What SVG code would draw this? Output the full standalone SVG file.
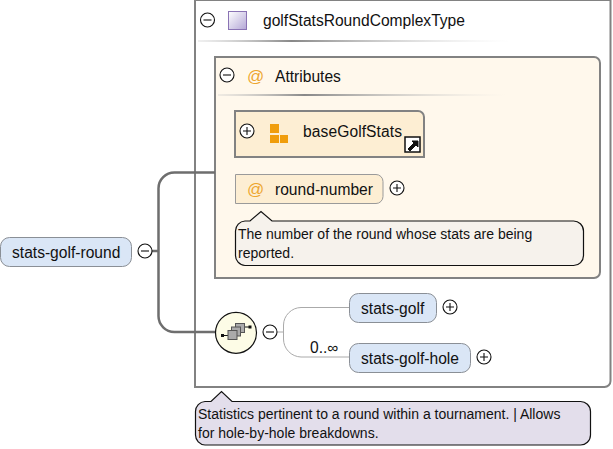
<svg xmlns="http://www.w3.org/2000/svg" width="613" height="449" viewBox="0 0 613 449">
<style>
text{font-family:"Liberation Sans",Arial,sans-serif;fill:#111}
.t{font-size:15.6px}
.n{font-size:14px}
.el{fill:#dae6f6;stroke:#8a8f96;stroke-width:1}
.btn{fill:#fff;stroke:#111;stroke-width:1.1}
.sym{stroke:#111;stroke-width:1.1;fill:none}
.at{font-size:17px;fill:#eda62f}
.conn{fill:none;stroke:#6e6e6e;stroke-width:2.5}
.thin{fill:none;stroke:#aaa;stroke-width:1}
.note{stroke:#111;stroke-width:1.2}
.sq{fill:#aaa;stroke:#555}
</style>
<defs>
<linearGradient id="div"><stop offset="0" stop-color="#ccc" stop-opacity=".3"/><stop offset=".3" stop-color="#888"/><stop offset="1" stop-color="#ddd" stop-opacity="0"/></linearGradient>
<linearGradient id="sq" x1="0" y1="0" x2="1" y2="1"><stop offset="0" stop-color="#fff"/><stop offset="1" stop-color="#b3a6d6"/></linearGradient>
</defs>
<g id="type-box">
<path d="M195 0H610.500V381a6 6 0 0 1-6 6H195Z" fill="#fff" stroke="#828282" stroke-width="2"/>
<circle class="btn" cx="207.500" cy="20" r="7"/><path class="sym" d="M203.500 20h8"/>
<rect x="228.500" y="11.500" width="18" height="18" fill="url(#sq)" stroke="#8a73b4"/>
<text class="t" x="263" y="26">golfStatsRoundComplexType</text>
<rect x="198" y="40" width="312" height="2" fill="url(#div)"/>
</g>
<g id="attributes">
<path d="M215 57H594a6 6 0 0 1 6 6V272a6 6 0 0 1-6 6H215Z" fill="#fff8ec" stroke="#828282" stroke-width="2"/>
<circle class="btn" cx="227" cy="75" r="7"/><path class="sym" d="M223 75h8"/>
<text class="at" x="247" y="82">@</text>
<text class="t" x="275" y="82">Attributes</text>
<rect x="218" y="94" width="288" height="2" fill="url(#div)"/>
</g>
<g id="baseGolfStats">
<path d="M235 111H418a6 6 0 0 1 6 6V157H235Z" fill="#fdeed3" stroke="#828282" stroke-width="2"/>
<circle class="btn" cx="247" cy="131" r="7"/><path class="sym" d="M243 131h8M247 127v8"/>
<path d="M270 124h9v9h-9ZM270 135h9v8h-9ZM280 135h8v8h-8Z" fill="#f09d0c"/>
<text class="t" x="303" y="137" textLength="99">baseGolfStats</text>
<rect x="405" y="137" width="15" height="15" fill="#fff" stroke="#111" stroke-width="1.500"/>
<path d="M408 149l6-6-2-2h6v6l-2-2-6 6Z" fill="#111" stroke="#111"/>
</g>
<g id="round-number">
<path d="M235.500 174.500H376a7 7 0 0 1 7 7V196.500a7 7 0 0 1-7 7H235.500Z" fill="#fdeed3" stroke="#9a9a9a"/>
<text class="at" x="247" y="195">@</text>
<text class="t" x="275" y="195">round-number</text>
<circle class="btn" cx="397" cy="188" r="7"/><path class="sym" d="M393 188h8M397 184v8"/>
</g>
<g id="round-number-note">
<path class="note" d="M245 221H250L261 211.500L272 221H573a10 10 0 0 1 10.500 10V255a10 10 0 0 1-10.500 10.500H245a10 10 0 0 1-9.500-10.500V231a10 10 0 0 1 9.500-10Z" fill="#f6f2ec"/>
<text class="n" x="238" y="239">The number of the round whose stats are being</text>
<text class="n" x="238" y="258">reported.</text>
</g>
<g id="connectors">
<path class="conn" d="M152 251H158.500M215 172.500H175a16 16 0 0 0-16.500 16.500V315.500a16 16 0 0 0 16.500 16.500H215"/>
<path class="thin" d="M277 332H283.500M349 307.500H301a18 18 0 0 0-17.500 17.500V339a18 18 0 0 0 17.500 18H349"/>
</g>
<g id="stats-golf-round">
<rect class="el" x="0.500" y="237.500" width="131" height="29" rx="9"/>
<text class="t" x="12" y="258">stats-golf-round</text>
<circle class="btn" cx="145" cy="251" r="7"/><path class="sym" d="M141 251h8"/>
</g>
<g id="sequence">
<circle cx="236" cy="332.800" r="20.500" fill="#fdfce6" stroke="#111" stroke-width="1.200"/>
<path d="M222 335.500h6M244 327h6" stroke="#111" stroke-width="1.200"/>
<rect x="221" y="334" width="3" height="3" fill="#111"/>
<rect x="248.500" y="325.500" width="3" height="3" fill="#111"/>
<rect class="sq" x="235.500" y="323.500" width="9" height="9"/>
<rect class="sq" x="231.500" y="327" width="9" height="9"/>
<rect class="sq" x="228" y="330.500" width="9" height="9"/>
<circle class="btn" cx="270" cy="332" r="7"/><path class="sym" d="M266 332h8"/>
</g>
<g id="stats-golf">
<rect class="el" x="349.500" y="293.500" width="87" height="29" rx="9"/>
<text class="t" x="361" y="314">stats-golf</text>
<circle class="btn" cx="450" cy="307" r="7"/><path class="sym" d="M446 307h8M450 303v8"/>
</g>
<g id="stats-golf-hole">
<text class="t" x="310" y="353">0..∞</text>
<rect class="el" x="349.500" y="343.500" width="121" height="29" rx="9"/>
<text class="t" x="361" y="364">stats-golf-hole</text>
<circle class="btn" cx="484" cy="357" r="7"/><path class="sym" d="M480 357h8M484 353v8"/>
</g>
<g id="type-note">
<path class="note" d="M205 401.500H211L221.500 391.500L232 401.500H580a10 10 0 0 1 10.500 10V435a10 10 0 0 1-10.500 10H205a10 10 0 0 1-9.500-10V411.500a10 10 0 0 1 9.500-10Z" fill="#e3deeb"/>
<text class="n" x="198" y="419">Statistics pertinent to a round within a tournament. | Allows</text>
<text class="n" x="198" y="438">for hole-by-hole breakdowns.</text>
</g>
</svg>
